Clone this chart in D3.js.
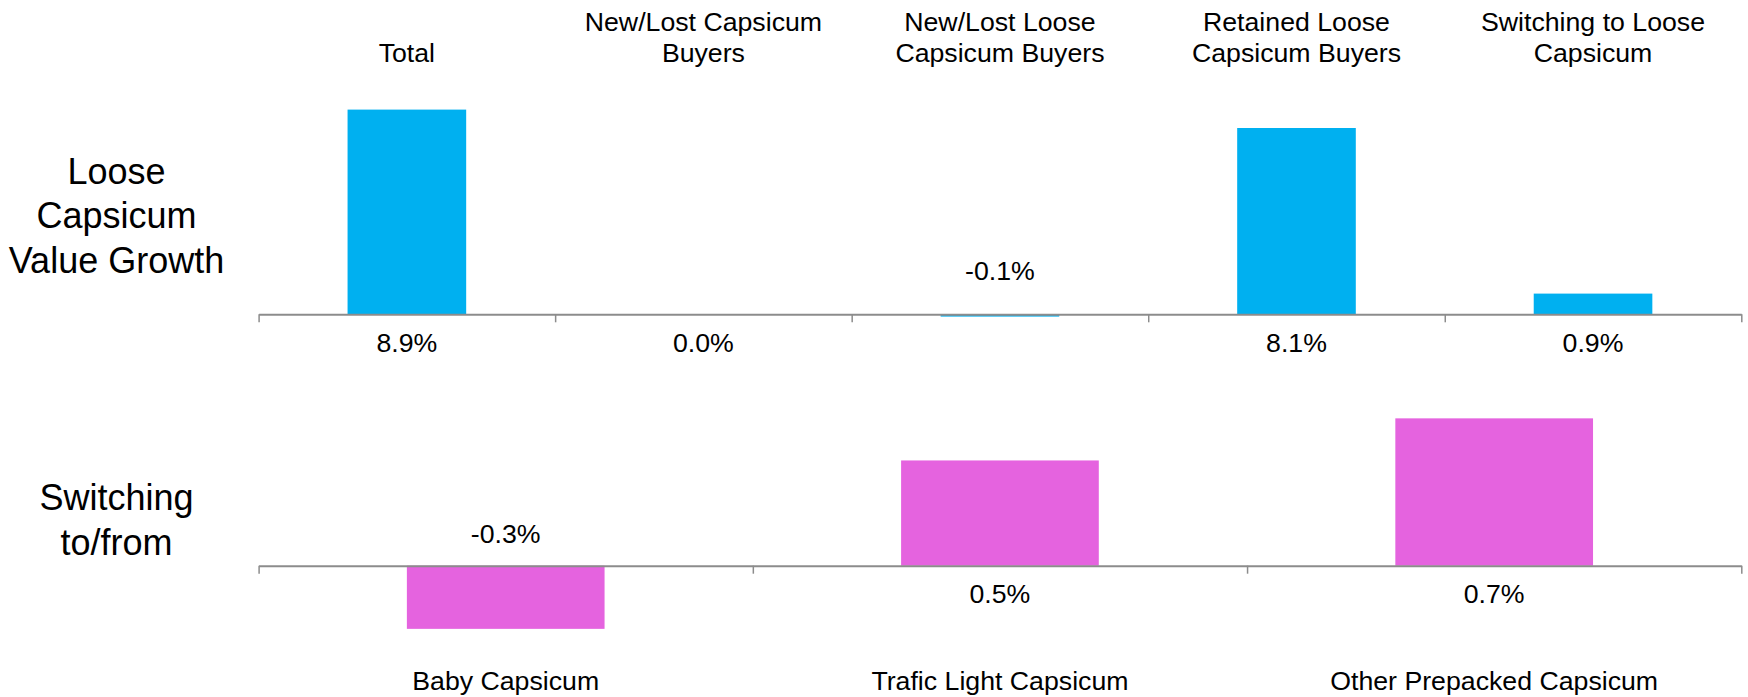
<!DOCTYPE html>
<html>
<head>
<meta charset="utf-8">
<script src="https://cdn.jsdelivr.net/npm/d3@7"></script>
<style>
  body { margin: 0; background: #fff; }
  svg { display: block; font-family: "Liberation Sans", Arial, sans-serif; }
</style>
</head>
<body>
<svg width="1748" height="697"></svg>
<script>
// top panel data
const topCategories = [
  ["Total"],
  ["New/Lost Capsicum", "Buyers"],
  ["New/Lost Loose", "Capsicum Buyers"],
  ["Retained Loose", "Capsicum Buyers"],
  ["Switching to Loose", "Capsicum"]
]
const topValues = [8.9, 0.0, -0.1, 8.1, 0.9]

// bottom panel data
const bottomCategories = ["Baby Capsicum", "Trafic Light Capsicum", "Other Prepacked Capsicum"]
const bottomValues = [-0.3, 0.5, 0.7]

const rowTitles = [
  ["Loose", "Capsicum", "Value Growth"],
  ["Switching", "to/from"]
]

const svg = d3.select("svg")
const left = 258.6, right = 1741.3
const axisColor = "#8c8c8c"

function drawPanel(cfg) {
  const n = cfg.values.length
  const x = d3.scaleBand().domain(d3.range(n)).range([left, right]).padding(0)
  const edge = d3.scaleLinear().domain([0, n]).range([left, right])
  const y = d3.scaleLinear().domain(cfg.domain).range(cfg.range)
  const y0 = y(0)
  const g = svg.append("g")

  const barW = x.bandwidth() * 0.4
  g.selectAll("rect")
    .data(cfg.values)
    .join("rect")
    .attr("x", (d, i) => x(i) + (x.bandwidth() - barW) / 2)
    .attr("y", d => Math.min(y(d), y0))
    .attr("width", barW)
    .attr("height", d => Math.abs(y(d) - y0))
    .attr("fill", cfg.color)

  // axis with ticks on category boundaries
  const ax = g.append("g")
    .attr("transform", "translate(0," + y0 + ")")
    .call(d3.axisBottom(edge).tickValues(d3.range(n + 1)).tickFormat("").tickSize(8).tickSizeOuter(0))
  ax.select(".domain").attr("stroke", axisColor).attr("stroke-width", 2)
  ax.selectAll(".tick line").attr("stroke", axisColor).attr("stroke-width", 1.5)

  // value labels
  g.selectAll("text.val")
    .data(cfg.values)
    .join("text")
    .attr("class", "val")
    .attr("x", (d, i) => x(i) + x.bandwidth() / 2)
    .attr("y", d => d < 0 ? y0 + cfg.negDy : y0 + cfg.posDy)
    .attr("text-anchor", "middle")
    .attr("font-size", 26.7)
    .attr("fill", "#000")
    .text(d => d3.format(".1f")(d).replace("−", "-") + "%")

  return x
}

const xTop = drawPanel({
  values: topValues,
  domain: [-1, 10], range: [337.3, 84.3],
  color: "#00b0f0", posDy: 38, negDy: -34
})

const xBottom = drawPanel({
  values: bottomValues,
  domain: [-0.4, 0.8], range: [649.9, 397.3],
  color: "#e563df", posDy: 37, negDy: -23
})

// top category labels (bottom-aligned, two lines)
topCategories.forEach(function(lines, i) {
  const t = svg.append("text")
    .attr("x", xTop(i) + xTop.bandwidth() / 2)
    .attr("text-anchor", "middle")
    .attr("font-size", 26.7)
  const offset = 2 - lines.length
  lines.forEach(function(line, j) {
    t.append("tspan")
      .attr("x", xTop(i) + xTop.bandwidth() / 2)
      .attr("y", 31 + (j + offset) * 31)
      .text(line)
  })
})

// bottom category labels
svg.selectAll("text.cat")
  .data(bottomCategories)
  .join("text")
  .attr("class", "cat")
  .attr("x", (d, i) => xBottom(i) + xBottom.bandwidth() / 2)
  .attr("y", 689.5)
  .attr("text-anchor", "middle")
  .attr("font-size", 26.7)
  .text(d => d)

// row titles
const titleTops = [183.5, 510]
rowTitles.forEach(function(lines, i) {
  const t = svg.append("text")
    .attr("text-anchor", "middle")
    .attr("font-size", 36)
  lines.forEach(function(line, j) {
    t.append("tspan")
      .attr("x", 116.5)
      .attr("y", titleTops[i] + j * 44.6)
      .text(line)
  })
})
</script>
</body>
</html>
